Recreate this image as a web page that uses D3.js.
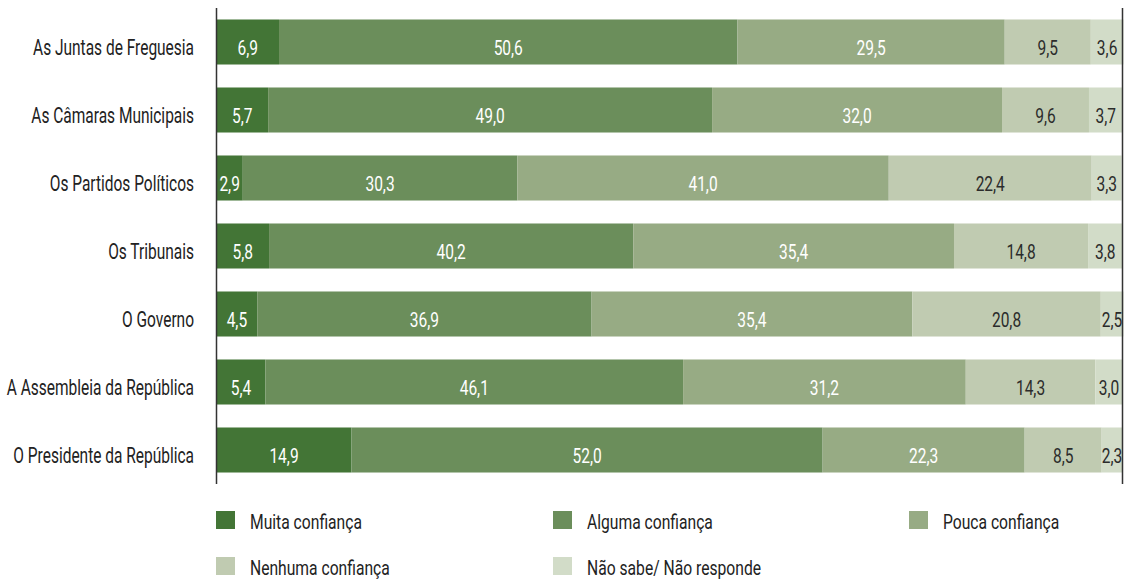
<!DOCTYPE html>
<html><head><meta charset="utf-8">
<script src="https://cdn.jsdelivr.net/npm/d3@7"></script>
<style>
body{margin:0;background:#fff;}
text{font-family:"Roboto",sans-serif;}
</style></head>
<body><svg id="c" width="1128" height="583"></svg>
<script>
const categories = ["As Juntas de Freguesia","As Câmaras Municipais","Os Partidos Políticos","Os Tribunais","O Governo","A Assembleia da República","O Presidente da República"];
const seriesNames = ["Muita confiança","Alguma confiança","Pouca confiança","Nenhuma confiança","Não sabe/ Não responde"];
const muita   = [6.9, 5.7, 2.9, 5.8, 4.5, 5.4, 14.9];
const alguma  = [50.6, 49.0, 30.3, 40.2, 36.9, 46.1, 52.0];
const pouca   = [29.5, 32.0, 41.0, 35.4, 35.4, 31.2, 22.3];
const nenhuma = [9.5, 9.6, 22.4, 14.8, 20.8, 14.3, 8.5];
const naoSabe = [3.6, 3.7, 3.3, 3.8, 2.5, 3.0, 2.3];
const colors = ["#437536","#6b8e5b","#97ab84","#c0cbb1","#d2dcc8"];
const textColors = ["#fff","#fff","#fff","#2b2b2b","#2b2b2b"];

const seriesVals = [muita, alguma, pouca, nenhuma, naoSabe];
const keys = ["m","a","p","n","s"];
const table = categories.map((c,i)=>{const o={cat:c}; keys.forEach((k,j)=>o[k]=seriesVals[j][i]); return o;});
const stacked = d3.stack().keys(keys)(table);

const svg = d3.select("#c");

// measure to emulate a condensed face
function condense(str, size, target){
  const p = svg.append("text").attr("font-size",size).text(str);
  const w = p.node().getComputedTextLength(); p.remove();
  return target / w;
}
const sxLab = condense("As Juntas de Freguesia", 22, 161);
const sxVal = condense("6,9", 20, 20.5);
const sxLeg = condense("Muita confiança", 21, 112);

const x = d3.scaleLinear().domain([0,100]).range([216.5,1122.5]);
const y = d3.scaleBand().domain(categories).range([8,484]).paddingInner(0.338).paddingOuter(0.169);
const fmt = v => d3.format(".1f")(v).replace(".",",");

const g = svg.append("g");
stacked.forEach((s,si)=>{
  const grp = g.append("g");
  grp.selectAll("rect").data(s).join("rect")
    .attr("x",d=>x(d[0])).attr("y",d=>y(d.data.cat))
    .attr("width",d=>x(d[1])-x(d[0])).attr("height",y.bandwidth())
    .attr("fill",colors[si]);
  grp.selectAll("text").data(s).join("text")
    .attr("transform",d=>`translate(${(x(d[0])+x(d[1]))/2},${y(d.data.cat)+y.bandwidth()/2}) scale(${sxVal},1)`)
    .attr("dy","0.65em").attr("text-anchor","middle")
    .attr("font-size",20).attr("fill",textColors[si])
    .text(d=>fmt(d[1]-d[0]));
});

// axis (left) with category labels
const ax = svg.append("g").attr("transform","translate(216.5,0)")
  .call(d3.axisLeft(y).tickSize(0).tickPadding(22));
ax.select(".domain").attr("stroke","#333").attr("stroke-width",1.5).attr("d","M0,8V484");
ax.selectAll(".tick text").attr("x",0).attr("dy","0.6em")
  .attr("transform",`translate(-22.5,0) scale(${sxLab},1)`)
  .attr("font-size",22).attr("fill","#222").style("font-family","Roboto, sans-serif");

// right border
svg.append("line").attr("x1",1122.5).attr("x2",1122.5).attr("y1",8).attr("y2",484)
  .attr("stroke","#333").attr("stroke-width",1.5);

// legend
const legendPos = [[216,511],[553,511],[909,511],[216,557],[553,557]];
const lg = svg.append("g").selectAll("g").data(seriesNames).join("g")
  .attr("transform",(d,i)=>`translate(${legendPos[i][0]},${legendPos[i][1]})`);
lg.append("rect").attr("width",19).attr("height",18).attr("fill",(d,i)=>colors[i]);
lg.append("text").attr("transform",`translate(34,18) scale(${sxLeg},1)`)
  .attr("font-size",21).attr("fill","#222").text(d=>d);
</script></body></html>
